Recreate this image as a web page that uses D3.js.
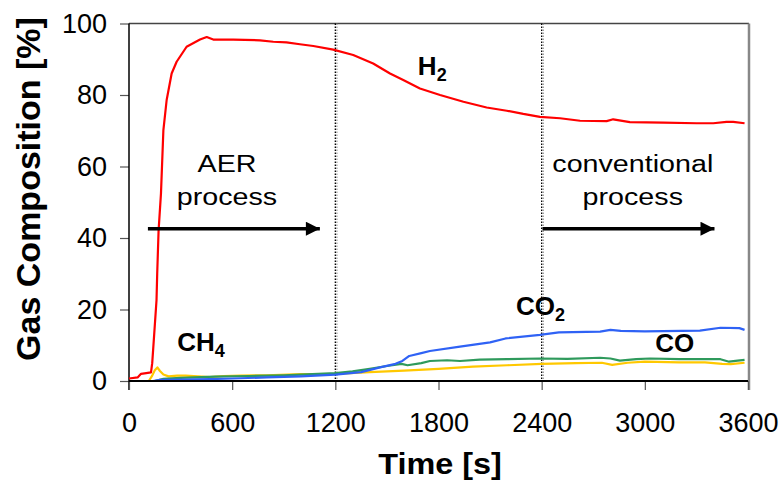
<!DOCTYPE html>
<html>
<head>
<meta charset="utf-8">
<script src="https://cdn.jsdelivr.net/npm/d3@7"></script>
<style>
  html, body { margin: 0; padding: 0; background: #fff; }
  svg { display: block; font-family: Arial, "Liberation Sans", sans-serif; }
</style>
</head>
<body>
<svg id="chart" width="782" height="481"></svg>
<script>
// Gas composition over time, measured in the product gas
const h2Time   = [0, 50, 70, 100, 128, 135, 145, 160, 164, 172, 186, 200, 219, 248, 277, 335, 413, 452, 490, 606, 762, 839, 916, 994, 1072, 1188, 1304, 1420, 1518, 1595, 1692, 1809, 1945, 2080, 2197, 2293, 2390, 2507, 2623, 2778, 2816, 2913, 3107, 3301, 3398, 3475, 3514, 3580];
const h2Values = [0.7, 1.0, 2.0, 2.2, 2.4, 5, 12, 22.6, 30, 42, 52.5, 70.2, 78.6, 86.0, 89.3, 93.5, 95.5, 96.2, 95.5, 95.5, 95.3, 94.9, 94.7, 94.2, 93.7, 92.7, 91.2, 88.8, 86.0, 84.2, 81.8, 80.0, 78.1, 76.5, 75.6, 74.7, 73.9, 73.5, 72.8, 72.7, 73.2, 72.4, 72.3, 72.1, 72.1, 72.5, 72.5, 72.1];

const co2Time   = [0, 140, 180, 300, 470, 600, 800, 1000, 1200, 1350, 1460, 1550, 1590, 1630, 1700, 1750, 1925, 2100, 2190, 2390, 2500, 2740, 2800, 2860, 3000, 3320, 3440, 3550, 3580];
const co2Values = [0, 0, 0.3, 0.4, 0.5, 0.7, 1.0, 1.3, 1.8, 2.5, 3.8, 4.8, 5.6, 7.0, 7.8, 8.4, 9.6, 10.8, 11.9, 12.9, 13.6, 13.8, 14.3, 14.0, 13.9, 14.1, 14.9, 14.8, 14.3];

const coTime   = [0, 150, 200, 300, 500, 700, 900, 1100, 1200, 1300, 1400, 1500, 1585, 1620, 1700, 1750, 1850, 1925, 2040, 2200, 2390, 2550, 2740, 2800, 2855, 2950, 3030, 3200, 3440, 3490, 3540, 3580];
const coValues = [0, 0, 0.6, 0.9, 1.2, 1.4, 1.6, 2.0, 2.2, 2.7, 3.4, 4.2, 4.8, 4.4, 5.0, 5.6, 5.8, 5.6, 6.0, 6.1, 6.3, 6.2, 6.5, 6.3, 5.7, 6.1, 6.3, 6.1, 6.1, 5.4, 5.7, 5.9];

const ch4Time   = [0, 115, 135, 150, 165, 180, 200, 230, 280, 330, 400, 470, 550, 650, 800, 1000, 1200, 1400, 1600, 1800, 2000, 2200, 2400, 2600, 2750, 2810, 2900, 3000, 3200, 3350, 3450, 3500, 3580];
const ch4Values = [0, 0, 1.5, 3.0, 3.8, 2.8, 1.8, 1.3, 1.5, 1.5, 1.3, 1.1, 1.4, 1.5, 1.6, 1.9, 2.0, 2.5, 2.9, 3.4, 4.0, 4.4, 4.8, 5.0, 5.1, 4.5, 5.1, 5.4, 5.2, 5.2, 4.8, 4.7, 5.1];

const xTicks = [0, 600, 1200, 1800, 2400, 3000, 3600];
const yTicks = [0, 20, 40, 60, 80, 100];
const phaseBoundaries = [1200, 2400];

const svg = d3.select("#chart");
const x = d3.scaleLinear().domain([0, 3600]).range([129, 748]);
const y = d3.scaleLinear().domain([0, 100]).range([381, 23.5]);

const series = [
  { t: ch4Time, v: ch4Values, color: "#ffc800" },
  { t: coTime,  v: coValues,  color: "#2f9a5c" },
  { t: co2Time, v: co2Values, color: "#2f62f5" },
  { t: h2Time,  v: h2Values,  color: "#ff0000" }
];

// Frame: top and right edges
svg.append("line").attr("x1", x(0)).attr("x2", x(3600) + 1)
  .attr("y1", y(100)).attr("y2", y(100))
  .attr("stroke", "#444").attr("stroke-width", 1.5);
svg.append("line").attr("x1", x(3600) + 1).attr("x2", x(3600) + 1)
  .attr("y1", y(100)).attr("y2", y(0) + 9)
  .attr("stroke", "#888").attr("stroke-width", 2.5);

// Phase boundaries
phaseBoundaries.forEach(t => {
  svg.append("line").attr("x1", x(t)).attr("x2", x(t))
    .attr("y1", y(100)).attr("y2", y(0))
    .attr("stroke", "#000").attr("stroke-width", 1.3)
    .attr("stroke-dasharray", "1.5 1.5");
  svg.append("line").attr("x1", x(t) + 1.6).attr("x2", x(t) + 1.6)
    .attr("y1", y(100)).attr("y2", y(0))
    .attr("stroke", "#888").attr("stroke-width", 1)
    .attr("stroke-dasharray", "1.5 1.5");
});

// Y axis
const yAxis = svg.append("g").attr("transform", `translate(${x(0)},0)`)
  .call(d3.axisLeft(y).tickValues(yTicks).tickSize(9).tickPadding(13).tickFormat(d3.format("d")));
yAxis.select(".domain").remove();
yAxis.selectAll(".tick line").attr("stroke", "#555").attr("stroke-width", 1.2);
yAxis.selectAll(".tick text").attr("font-size", 27).attr("fill", "#000")
  .attr("font-family", "Arial, 'Liberation Sans', sans-serif");
svg.append("line").attr("x1", x(0)).attr("x2", x(0))
  .attr("y1", y(100)).attr("y2", y(0) + 9)
  .attr("stroke", "#000").attr("stroke-width", 1.5);

// X axis
const xAxis = svg.append("g").attr("transform", `translate(0,${y(0)})`)
  .call(d3.axisBottom(x).tickValues(xTicks).tickSize(9).tickPadding(23).tickFormat(d3.format("d")));
xAxis.select(".domain").remove();
xAxis.selectAll(".tick line").attr("stroke", "#555").attr("stroke-width", 1.2);
xAxis.selectAll(".tick text").attr("font-size", 27).attr("fill", "#000")
  .attr("font-family", "Arial, 'Liberation Sans', sans-serif");

// Series
const line = d3.line().x(d => x(d[0])).y(d => y(d[1]));
series.forEach(s => {
  svg.append("path")
    .datum(s.t.map((t, i) => [t, s.v[i]]))
    .attr("fill", "none").attr("stroke", s.color)
    .attr("stroke-width", 2.2).attr("stroke-linejoin", "round")
    .attr("d", line);
});

svg.append("line").attr("x1", x(0)).attr("x2", x(3600))
  .attr("y1", y(0)).attr("y2", y(0))
  .attr("stroke", "#000").attr("stroke-width", 2);

// Process annotations
const defs = svg.append("defs");
defs.append("marker").attr("id", "arrow").attr("viewBox", "0 0 10 10")
  .attr("refX", 10).attr("refY", 5).attr("markerUnits", "userSpaceOnUse")
  .attr("markerWidth", 15).attr("markerHeight", 14).attr("orient", "auto")
  .append("path").attr("d", "M0,0 L10,5 L0,10 Z").attr("fill", "#000");

const phases = [
  { lines: ["AER", "process"], cx: 570, from: 110, to: 1110 },
  { lines: ["conventional", "process"], cx: 2930, from: 2405, to: 3405 }
];
phases.forEach(p => {
  const cx = x(p.cx);
  const txt = svg.append("text").attr("text-anchor", "middle")
    .attr("transform", `translate(${cx},0) scale(1.17,1)`)
    .attr("font-size", 24.5).attr("fill", "#000");
  p.lines.forEach((l, i) => {
    txt.append("tspan").attr("x", 0).attr("y", 172 + i * 33).text(l);
  });
  svg.append("line").attr("x1", x(p.from)).attr("x2", x(p.to))
    .attr("y1", y(42.6)).attr("y2", y(42.6))
    .attr("stroke", "#000").attr("stroke-width", 3.5)
    .attr("marker-end", "url(#arrow)");
});

// Species labels
const labels = [
  { base: "H", sub: "2", t: 1680, v: 85.6 },
  { base: "CO", sub: "2", t: 2250, v: 18.4 },
  { base: "CO", sub: "",  t: 3060, v: 8.1 },
  { base: "CH", sub: "4", t: 280, v: 8.4 }
];
labels.forEach(l => {
  const txt = svg.append("text").attr("x", x(l.t)).attr("y", y(l.v))
    .attr("font-size", 26).attr("font-weight", "bold").attr("fill", "#000");
  txt.append("tspan").text(l.base);
  if (l.sub) txt.append("tspan").attr("font-size", 18).attr("dy", 6).text(l.sub);
});

// Axis titles
svg.append("text").attr("transform", "translate(440,474) scale(1.08,1)")
  .attr("text-anchor", "middle")
  .attr("font-size", 30).attr("font-weight", "bold").text("Time [s]");
svg.append("text").attr("transform", "translate(40,189) rotate(-90)")
  .attr("text-anchor", "middle").attr("font-size", 34).attr("font-weight", "bold")
  .text("Gas Composition [%]");
</script>
</body>
</html>
